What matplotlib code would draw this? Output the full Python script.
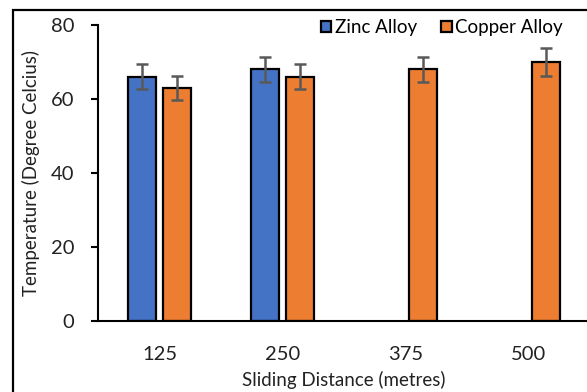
import numpy as np
import matplotlib
matplotlib.use("Agg")
import matplotlib.pyplot as plt
from matplotlib.patches import Rectangle

plt.rcParams['font.family'] = ['Lato', 'DejaVu Sans']

distances = ["125", "250", "375", "500"]
zinc_temp = [66, 68, np.nan, np.nan]
zinc_err = [3.4, 3.4, np.nan, np.nan]
copper_temp = [63, 66, 68, 70]
copper_err = [3.2, 3.4, 3.4, 3.7]

BLUE = "#4472C4"
ORANGE = "#ED7D31"
ERR = "#595959"

fig = plt.figure(figsize=(5.87, 3.92), dpi=100)
ax = fig.add_axes([98/587, 1 - 321/392, (590 - 98)/587, (321 - 25)/392])

x = np.arange(len(distances))
width = 0.228
off = 0.142

zt = np.array(zinc_temp, dtype=float)
ze = np.array(zinc_err, dtype=float)
ok = ~np.isnan(zt)
ax.bar(x[ok] - off, zt[ok], width, color=BLUE, edgecolor="black", linewidth=1.6,
       label="Zinc Alloy", zorder=2)
ax.errorbar(x[ok] - off, zt[ok], yerr=ze[ok], fmt="none", ecolor=ERR,
            elinewidth=1.8, capsize=4.5, capthick=1.8, zorder=3)

ax.bar(x + off, copper_temp, width, color=ORANGE, edgecolor="black", linewidth=1.6,
       label="Copper Alloy", zorder=2)
ax.errorbar(x + off, copper_temp, yerr=copper_err, fmt="none", ecolor=ERR,
            elinewidth=1.8, capsize=4.5, capthick=1.8, zorder=3)

ax.set_xlim(-0.5, 3.5)
ax.set_ylim(0, 80)
ax.set_yticks([0, 20, 40, 60, 80])
ax.set_xticks(x)
ax.set_xticklabels(distances)
ax.tick_params(axis="x", length=0, pad=18, labelsize=14.5, colors="#222222")
ax.tick_params(axis="y", length=5, width=1.5, pad=12, labelsize=14.5,
               colors="black", labelcolor="#222222")
for s in ("top", "right"):
    ax.spines[s].set_visible(False)
ax.spines["left"].set_linewidth(1.5)
ax.spines["bottom"].set_linewidth(1.5)

ax.set_xlabel("Sliding Distance (metres)", fontsize=13.5, color="#222222", labelpad=6)
ax.set_ylabel("Temperature (Degree Celcius)", fontsize=13.5, color="#222222", labelpad=8)

ax.legend(loc="upper right", bbox_to_anchor=(0.972, 0.97), bbox_transform=fig.transFigure,
          ncol=2, frameon=False, fontsize=13.5, handlelength=0.55, handleheight=0.55,
          handletextpad=0.2, columnspacing=1.3, borderaxespad=0)

fig.patches.append(Rectangle((13/587, -0.1), 1.2, 1 - 10/392 + 0.1,
                             transform=fig.transFigure, fill=False,
                             edgecolor="black", linewidth=1.6))

fig.savefig("out.png", dpi=100)
